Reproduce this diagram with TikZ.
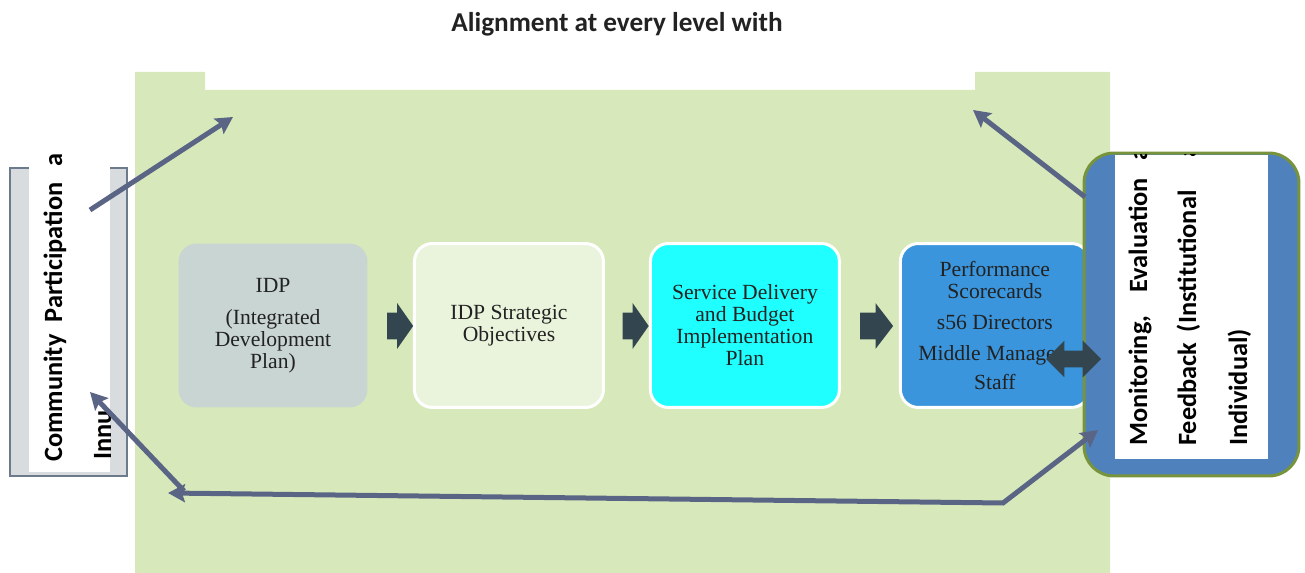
\documentclass[tikz,border=0pt]{standalone}
\usepackage{fontspec}
\usepackage{tikz}
\usetikzlibrary{arrows.meta,shapes.arrows}
\newfontfamily\headfont{Carlito}
\newfontfamily\boxfont{Liberation Serif}
\definecolor{bggreen}{HTML}{D7E9BA}
\definecolor{boxgray}{HTML}{D9DCDF}
\definecolor{edgegray}{HTML}{6C7B8B}
\definecolor{idpfill}{HTML}{C9D5D2}
\definecolor{objfill}{HTML}{EAF4DC}
\definecolor{sdbipfill}{HTML}{1FFFFF}
\definecolor{perffill}{HTML}{3A95DC}
\definecolor{mefill}{HTML}{4F81BD}
\definecolor{meedge}{HTML}{77933C}
\definecolor{arrowdark}{HTML}{33454F}
\definecolor{linkblue}{HTML}{5A6485}
\definecolor{textdark}{HTML}{222222}
\tikzset{
conn/.style={->, line width=0.1cm, draw=linkblue}, % the slate connectors
>={Stealth[length=0.34cm,width=0.36cm,inset=0.06cm]}, % arrow heads of the connectors
node distance=4.72cm, % distance between the centres of the boxes
box/.style={rounded corners=0.36cm, draw=white, line width=0.06cm, minimum width=3.78cm, minimum height=3.28cm, align=center, text=textdark, font=\boxfont\fontsize{12.3}{12.5}\selectfont}, % the boxes of the chain
step arrow/.style={single arrow, fill=arrowdark, inner xsep=0pt, inner ysep=0.26cm, single arrow head extend=0.19cm, single arrow tip angle=110}, % the fat arrows between boxes
vtext/.style={rotate=90, anchor=base west, text=black, font=\headfont\bfseries\fontsize{15}{18}\selectfont}, % upright side texts
}
\begin{document}
\begin{tikzpicture}[x=0.02cm, y=-0.02cm]
		\useasboundingbox (0,0) rectangle (1305,573);
		% green background with the notch at the top
		\fill[bggreen] (135,72) -- (205,72) -- (205,90) -- (975,90) -- (975,72) -- (1110,72) -- (1110,573) -- (135,573) -- cycle;
		\node[font=\headfont\bfseries\fontsize{15.5}{18}\selectfont, text=textdark] (title) at (617,24) {Alignment at every level with};
		% chain of boxes
		\node[box, fill=idpfill, draw=none] (idp) at (273,325.5) {IDP\\[6pt](Integrated\\Development\\Plan)};
		\node[box, fill=objfill, right of=idp] (obj) {IDP Strategic\\Objectives};
		\node[box, fill=sdbipfill, right of=obj] (sdbip) {Service Delivery\\and Budget\\Implementation\\Plan};
		\node[box, fill=perffill, right of=sdbip, node distance=5cm] (perf) {Performance\\Scorecards\\[5pt]s56 Directors\\[5pt]Middle Manage\phantom{rs}\\[4pt]Staff};
		\node[step arrow, minimum height=0.52cm] (a1) at (395.5,326) {};
		\node[step arrow, minimum height=0.52cm] (a2) at (631,326) {};
		\node[step arrow, minimum height=0.66cm, single arrow tip angle=105] (a3) at (871.5,326) {};
		% left box
		\node[draw=edgegray, fill=boxgray, line width=0.04cm, minimum width=2.34cm, minimum height=6.16cm, inner sep=0pt] (cp) at (68.5,322) {};
		\begin{scope}
			\clip (29,155) rectangle (110,472);
			\fill[white] (29,155) rectangle (110,472);
			\node[vtext] (cp1) at (62,468) {Community\hspace{7pt}Participation\hspace{9pt}a};
			\node[vtext] (cp2) at (111,466) {Innu};
		\end{scope}
		% right box
		\node[draw=meedge, fill=mefill, line width=0.06cm, rounded corners=0.6cm, minimum width=4.3cm, minimum height=6.46cm, inner sep=0pt] (me) at (1191.5,314.5) {};
		\begin{scope}
			\clip (1115,155) rectangle (1268,459);
			\fill[white] (1115,155) rectangle (1268,459);
			\node[vtext] (me1) at (1147,452) {Monitoring,\hspace{13pt}Evaluation\hspace{10pt}a};
			\node[vtext] (me2) at (1196,452) {Feedback\hspace{6pt}(Institutional\hspace{19pt}a};
			\node[vtext] (me3) at (1247,452) {Individual)};
		\end{scope}
		\node[double arrow, fill=arrowdark, inner xsep=0pt, inner ysep=0.16cm, minimum height=1.1cm, double arrow head extend=0.2cm] (fb) at (1073.5,359) {};
		% connectors
		\coordinate (c1) at (90,210);
		\coordinate (t1) at (233,117);
		\coordinate (c2) at (1085,197);
		\coordinate (t2) at (973,110);
		\coordinate (c3) at (1003,503);
		\coordinate (t3) at (1098,430);
		\coordinate (t4) at (168,493);
		\coordinate (c5) at (184,491);
		\coordinate (t5) at (90,392);
		\draw[conn] (c1) -- (t1);
		\draw[conn] (c2) -- (t2);
		\draw[conn, <->] (t3) -- (c3) -- (t4);
		\draw[conn] (c5) -- (t5);
	\end{tikzpicture}
\end{document}
